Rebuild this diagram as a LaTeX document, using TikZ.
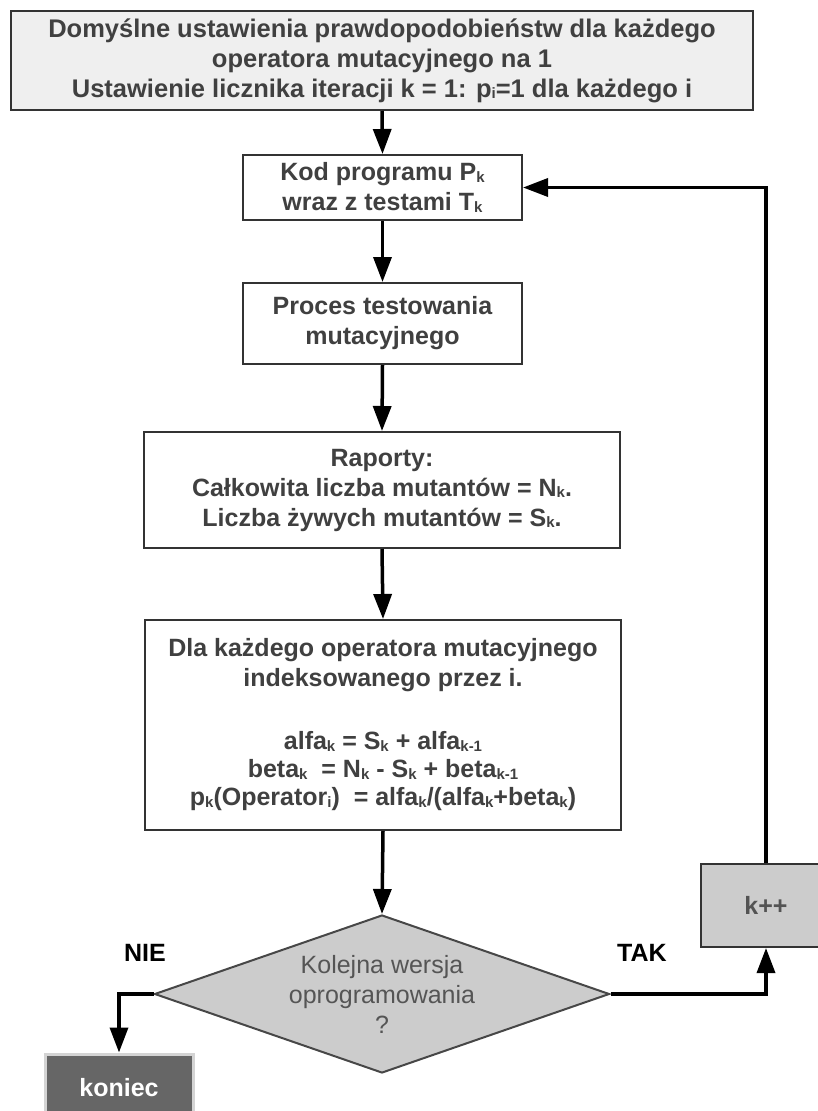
\documentclass[tikz,border=0pt]{standalone}
\usepackage{fontspec}
\setmainfont{Liberation Sans}
\usetikzlibrary{arrows.meta,shapes.geometric}
\definecolor{txt}{HTML}{404040}
\definecolor{bord}{HTML}{333333}
\definecolor{topfill}{HTML}{EFEFEF}
\definecolor{grayfill}{HTML}{CCCCCC}
\definecolor{darkfill}{HTML}{666666}
\definecolor{lightbord}{HTML}{D4D4D4}
\definecolor{diatxt}{HTML}{555555}
\newcommand{\sbs}[1]{\raisebox{-1.5pt}{\fontsize{15}{15}\selectfont #1}}
\tikzset{
  box/.style={rectangle, draw=bord, line width=2pt, inner sep=0pt, align=center,
    font=\bfseries\fontsize{25}{30}\selectfont, text=txt},
  dia/.style={diamond, draw=bord!90, line width=2pt, fill=grayfill, inner sep=0pt,
    aspect=2.88, minimum width=455pt, minimum height=158pt, align=center,
    font=\fontsize{25}{30}\selectfont, text=diatxt},
  lbl/.style={font=\bfseries\fontsize{25}{30}\selectfont, text=black, inner sep=0pt},
  arr/.style={line width=3.5pt, draw=black, -{Triangle[length=25pt,width=18pt]}}
}
\begin{document}
\begin{tikzpicture}[x=1pt,y=-1pt]
\useasboundingbox (0,0) rectangle (818,1111);
\clip (0,0) rectangle (818,1111);
\node[box, fill=topfill, minimum width=742pt, minimum height=99pt,
  font=\bfseries\fontsize{25.5}{30}\selectfont] (top) at (382,60.5)
  {Domyślne ustawienia prawdopodobieństw dla każdego\\operatora mutacyjnego na 1\\Ustawienie licznika iteracji k = 1: p\sbs{i}=1 dla każdego i};
\node[box, fill=white, minimum width=279pt, minimum height=65pt] (pk) at (382.5,187.5)
  {Kod programu P\sbs{k}\\wraz z testami T\sbs{k}};
\node[box, fill=white, minimum width=279pt, minimum height=81pt] (proc) at (382.5,323.5)
  {Proces testowania\\mutacyjnego};
\node[box, fill=white, minimum width=476pt, minimum height=116pt] (rap) at (382,490)
  {Raporty:\\Całkowita liczba mutantów = N\sbs{k}.\\Liczba żywych mutantów = S\sbs{k}.};
\node[box, fill=white, minimum width=476pt, minimum height=210pt] (dla) at (383,725)
  {Dla każdego operatora mutacyjnego\\indeksowanego przez i.\\[33pt]
   alfa\sbs{k} = S\sbs{k} + alfa\sbs{k-1}\\[-2pt]
   beta\sbs{k}\ \ = N\sbs{k} - S\sbs{k} + beta\sbs{k-1}\\[-2pt]
   p\sbs{k}(Operator\sbs{i})\ \ = alfa\sbs{k}/(alfa\sbs{k}+beta\sbs{k})};
\node[dia] (dec) at (382,994) {Kolejna wersja\\oprogramowania\\?};
\node[box, fill=grayfill, minimum width=130pt, minimum height=83pt, text=txt!90] (kpp) at (766,905.5) {k++};
\node[box, fill=darkfill, draw=lightbord, line width=3pt, minimum width=148pt, minimum height=68pt, text=white] (kon) at (119,1088) {koniec};
\node[lbl] (nie) at (145,953) {NIE};
\node[lbl] (tak) at (642,953) {TAK};
\draw[arr] (top.south) -- (pk.north);
\draw[arr] (pk.south) -- (proc.north);
\draw[arr] (proc.south) -- (rap.north);
\draw[arr] (rap.south) -- (dla.north);
\draw[arr] (dla.south) -- (dec.north);
\draw[arr] (dec.east) -| (kpp.south);
\draw[arr] (kpp.north) |- (pk.east);
\draw[arr] (dec.west) -| (kon.north);
\end{tikzpicture}
\end{document}
